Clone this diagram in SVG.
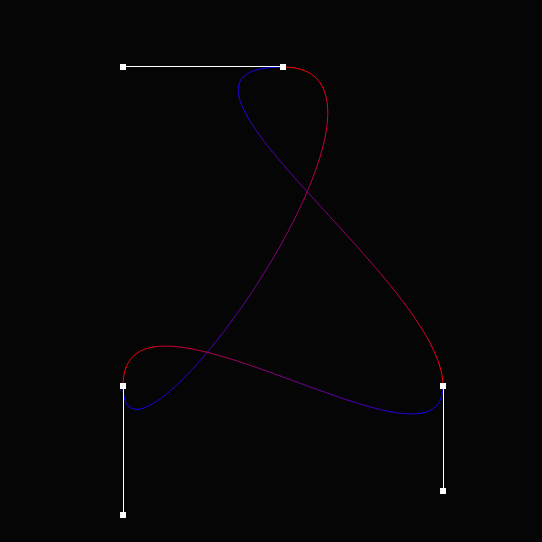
<svg xmlns="http://www.w3.org/2000/svg" xmlns:xlink="http://www.w3.org/1999/xlink" width="542" height="542" viewBox="0 0 542 542">
<style>
.seg use{fill:none;stroke-width:1;stroke-dasharray:0.052 2}
.p0{stroke:#f90006;stroke-dashoffset:0}
.p1{stroke:#ec0013;stroke-dashoffset:-0.05}
.p2{stroke:#df0020;stroke-dashoffset:-0.1}
.p3{stroke:#d2002d;stroke-dashoffset:-0.15}
.p4{stroke:#c60039;stroke-dashoffset:-0.2}
.p5{stroke:#b90046;stroke-dashoffset:-0.25}
.p6{stroke:#ac0053;stroke-dashoffset:-0.3}
.p7{stroke:#9f0060;stroke-dashoffset:-0.35}
.p8{stroke:#93006c;stroke-dashoffset:-0.4}
.p9{stroke:#860079;stroke-dashoffset:-0.45}
.p10{stroke:#790086;stroke-dashoffset:-0.5}
.p11{stroke:#6c0093;stroke-dashoffset:-0.55}
.p12{stroke:#60009f;stroke-dashoffset:-0.6}
.p13{stroke:#5300ac;stroke-dashoffset:-0.65}
.p14{stroke:#4600b9;stroke-dashoffset:-0.7}
.p15{stroke:#3900c6;stroke-dashoffset:-0.75}
.p16{stroke:#2d00d2;stroke-dashoffset:-0.8}
.p17{stroke:#2000df;stroke-dashoffset:-0.85}
.p18{stroke:#1300ec;stroke-dashoffset:-0.9}
.p19{stroke:#0600f9;stroke-dashoffset:-0.95}
.handle{stroke:#ffffff;stroke-width:1;fill:none}
.pt{fill:#ffffff}
</style>
<defs>
<path id="s1" pathLength="1" d="M283,67 C443,67 123,515 123,386"/>
<path id="s2" pathLength="1" d="M123,386 C123,257 443,491 443,386"/>
<path id="s3" pathLength="1" d="M443,386 C443,281 123,67 283,67"/>
</defs>
<rect width="542" height="542" fill="#050505"/>
<g id="curve" class="seg">
<use href="#s1" class="p0"/><use href="#s1" class="p1"/><use href="#s1" class="p2"/><use href="#s1" class="p3"/><use href="#s1" class="p4"/><use href="#s1" class="p5"/><use href="#s1" class="p6"/><use href="#s1" class="p7"/><use href="#s1" class="p8"/><use href="#s1" class="p9"/><use href="#s1" class="p10"/><use href="#s1" class="p11"/><use href="#s1" class="p12"/><use href="#s1" class="p13"/><use href="#s1" class="p14"/><use href="#s1" class="p15"/><use href="#s1" class="p16"/><use href="#s1" class="p17"/><use href="#s1" class="p18"/><use href="#s1" class="p19"/>
<use href="#s2" class="p0"/><use href="#s2" class="p1"/><use href="#s2" class="p2"/><use href="#s2" class="p3"/><use href="#s2" class="p4"/><use href="#s2" class="p5"/><use href="#s2" class="p6"/><use href="#s2" class="p7"/><use href="#s2" class="p8"/><use href="#s2" class="p9"/><use href="#s2" class="p10"/><use href="#s2" class="p11"/><use href="#s2" class="p12"/><use href="#s2" class="p13"/><use href="#s2" class="p14"/><use href="#s2" class="p15"/><use href="#s2" class="p16"/><use href="#s2" class="p17"/><use href="#s2" class="p18"/><use href="#s2" class="p19"/>
<use href="#s3" class="p0"/><use href="#s3" class="p1"/><use href="#s3" class="p2"/><use href="#s3" class="p3"/><use href="#s3" class="p4"/><use href="#s3" class="p5"/><use href="#s3" class="p6"/><use href="#s3" class="p7"/><use href="#s3" class="p8"/><use href="#s3" class="p9"/><use href="#s3" class="p10"/><use href="#s3" class="p11"/><use href="#s3" class="p12"/><use href="#s3" class="p13"/><use href="#s3" class="p14"/><use href="#s3" class="p15"/><use href="#s3" class="p16"/><use href="#s3" class="p17"/><use href="#s3" class="p18"/><use href="#s3" class="p19"/>
</g>
<g id="handles">
<line class="handle" x1="123" y1="66.5" x2="283" y2="66.5"/>
<line class="handle" x1="123.5" y1="386" x2="123.5" y2="515"/>
<line class="handle" x1="443.5" y1="386" x2="443.5" y2="491"/>
</g>
<g id="points">
<rect class="pt" x="120" y="64" width="6" height="6"/>
<rect class="pt" x="280" y="64" width="6" height="6"/>
<rect class="pt" x="120" y="383" width="6" height="6"/>
<rect class="pt" x="120" y="512" width="6" height="6"/>
<rect class="pt" x="440" y="383" width="6" height="6"/>
<rect class="pt" x="440" y="488" width="6" height="6"/>
</g>
</svg>
